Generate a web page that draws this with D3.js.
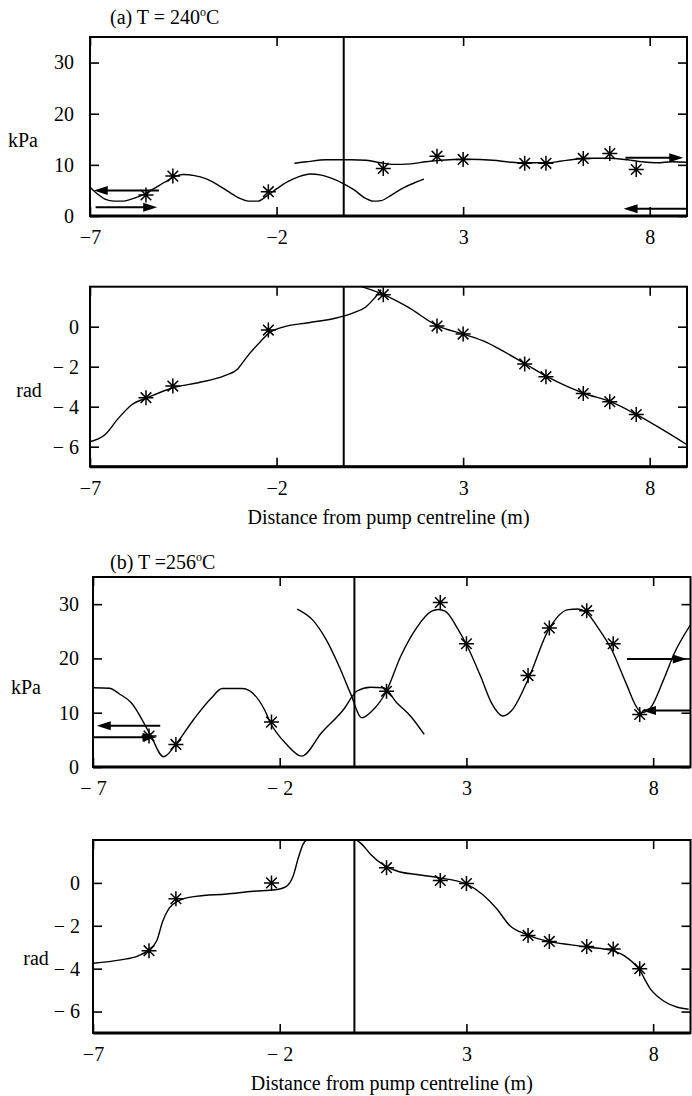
<!DOCTYPE html>
<html><head><meta charset="utf-8">
<script src="https://cdn.jsdelivr.net/npm/d3@7"></script>
<style>
body{margin:0;background:#fff}
svg{display:block}
</style>
</head><body>
<svg id="chart" width="692" height="1096"></svg>
<script>
// ---------------- data ----------------
const xDomain = [-7, 9];
const xTicks = [-7, -2, 3, 8];
const aXTickLabels = ["\u22127", "\u22122", "3", "8"];
const bXTickLabels = ["\u2212 7", "\u2212 2", "3", "8"];
const bRadXTickLabels = ["\u22127", "\u2212 2", "3", "8"];
const kPaTicks = [0, 10, 20, 30];
const kPaTickLabels = ["0", "10", "20", "30"];
const radTicks = [-6, -4, -2, 0];
const radTickLabels = ["\u2212 6", "\u2212 4", "\u2212 2", "0"];

// transducer positions (m) and measured values (asterisks)
const sensorX = [-5.5, -4.78, -2.22, 0.86, 2.3, 3.0, 4.65, 5.22, 6.22, 6.93, 7.64];
const aPressureMeas = [4.1, 7.8, 4.75, 9.3, 11.7, 11.06, 10.3, 10.3, 11.26, 12.2, 9.1];
const aPhaseMeas = [-3.55, -2.97, -0.17, 1.6, 0.03, -0.37, -1.86, -2.5, -3.34, -3.75, -4.39];
const bPressureMeas = [5.7, 4.16, 8.27, 13.96, 30.3, 22.7, 16.84, 25.6, 28.8, 22.7, 9.67];
const bPhaseMeas = [-3.16, -0.74, 0.0, 0.71, 0.11, -0.03, -2.45, -2.73, -2.97, -3.08, -4.0];

// fitted curves [x, y]
const aPressureSuction = [[-7,5.6],[-6.8,4.3],[-6.6,3.3],[-6.35,2.9],[-6.1,2.9],[-5.85,3.4],[-5.6,4.1],[-5.3,5.3],[-5.0,6.6],[-4.7,7.8],[-4.5,8.1],[-4.2,7.9],[-3.9,7.3],[-3.6,6.2],[-3.3,4.8],[-3.0,3.5],[-2.75,2.9],[-2.5,2.9],[-2.25,4.0],[-2.0,5.3],[-1.7,6.7],[-1.4,7.7],[-1.1,8.2],[-0.8,8.0],[-0.5,7.3],[-0.2,6.3],[0.1,5.0],[0.35,3.6],[0.6,2.9],[0.8,3.0],[1.1,4.2],[1.4,5.5],[1.7,6.5],[1.95,7.2]];
const aPressureDischarge = [[-1.52,10.3],[-1.2,10.6],[-0.67,11.0],[0.0,11.0],[0.4,10.9],[0.8,10.4],[1.1,10.1],[1.6,10.2],[2.0,10.6],[2.4,10.9],[3.1,11.1],[3.8,10.9],[4.3,10.5],[4.65,10.4],[5.25,10.4],[5.6,10.7],[6.0,11.1],[6.5,11.3],[6.9,11.3],[7.4,11.0],[7.8,10.6],[8.2,10.4],[8.6,10.6],[9.0,10.5]];
const aPhaseSuction = [[-7,-5.75],[-6.6,-5.4],[-6.23,-4.56],[-5.88,-3.9],[-5.46,-3.55],[-4.75,-3.04],[-4.1,-2.8],[-3.39,-2.45],[-3.04,-2.11],[-2.8,-1.52],[-2.44,-0.76],[-2.15,-0.25],[-1.85,-0.03],[-1.14,0.2],[-0.43,0.42],[0.04,0.68],[0.4,1.0],[0.63,1.44],[0.8,1.85]];
const aPhaseDischarge = [[0.28,2.0],[0.87,1.6],[1.5,1.0],[2.33,0.03],[3.0,-0.37],[3.6,-0.76],[4.0,-1.15],[4.65,-1.84],[5.25,-2.5],[5.8,-3.0],[6.25,-3.34],[6.95,-3.75],[7.65,-4.4],[8.3,-5.1],[9.0,-5.9]];

const bPressureSuction = [[-7,14.6],[-6.56,14.5],[-6.3,13.5],[-5.97,11.8],[-5.49,6.3],[-5.11,1.9],[-4.78,4.2],[-4.3,8.8],[-3.83,12.7],[-3.54,14.45],[-3.0,14.45],[-2.41,10.6],[-2.26,8.3],[-1.82,4.2],[-1.41,2.0],[-0.88,6.3],[-0.29,10.6],[0.07,14.0],[0.43,14.7],[0.78,14.6],[1.14,11.8],[1.5,9.4],[1.87,6.0]];
const bPressureDischarge = [[-1.53,29.1],[-1.12,27.1],[-0.76,23.5],[-0.41,18.55],[-0.11,13.65],[0.2,9.06],[0.47,10.3],[0.86,14.0],[1.24,20.4],[1.66,25.6],[2.07,28.7],[2.25,29.0],[2.43,28.7],[2.78,25.3],[2.99,22.7],[3.38,16.7],[3.67,11.8],[3.97,9.4],[4.2,10.3],[4.65,16.1],[5.2,25.3],[5.73,29.0],[5.97,29.1],[6.2,28.5],[6.56,25.3],[6.89,21.6],[7.27,15.5],[7.57,10.9],[7.7,10.0],[7.93,10.9],[8.28,16.1],[8.57,21.0],[9.0,26.2]];
const bPhaseSuction = [[-7,-3.75],[-6.26,-3.59],[-5.79,-3.4],[-5.53,-3.16],[-5.29,-2.69],[-5.14,-1.82],[-4.96,-1.18],[-4.72,-0.84],[-4.25,-0.63],[-3.42,-0.52],[-2.71,-0.39],[-2.12,-0.32],[-1.82,-0.16],[-1.64,0.32],[-1.5,1.18],[-1.37,1.82],[-1.25,2.05]];
const bPhaseDischarge = [[0.01,2.05],[0.19,1.82],[0.43,1.34],[0.82,0.79],[1.2,0.52],[1.67,0.39],[2.26,0.24],[2.99,-0.05],[3.44,-0.55],[3.8,-1.18],[4.15,-1.97],[4.63,-2.42],[5.2,-2.73],[5.81,-2.89],[6.28,-3.0],[6.9,-3.16],[7.23,-3.4],[7.61,-4.0],[7.94,-4.98],[8.3,-5.53],[8.65,-5.8],[8.95,-5.89]];

// wave-direction arrows: [xFrom, xTo, y]
const aArrows = [[-5.15,-6.9,5.0],[-6.85,-5.2,1.7],[7.35,8.9,11.4],[9.0,7.3,1.4]];
const bArrows = [[-5.2,-6.9,7.6],[-7.0,-5.3,5.5],[7.3,8.9,19.9],[9.0,7.7,10.4]];

const aPumpX = -0.2;
const bPumpX = 0;

// ---------------- drawing ----------------
const FONT = '"Liberation Serif", "Times New Roman", Times, "DejaVu Serif", serif';
const FS = '20px';
const svg = d3.select('#chart');

const panels = [
  {left:90, right:687, top:37, bottom:216, yDomain:[0,35], yTicks:kPaTicks, yLabels:kPaTickLabels, xLabels:aXTickLabels, yPad:16,
   unit:"kPa", unitX:23, unitY:140, curves:[aPressureSuction,aPressureDischarge], meas:aPressureMeas, arrows:aArrows, pump:aPumpX},
  {left:90, right:687, top:286.7, bottom:466.7, yDomain:[-7,2], yTicks:radTicks, yLabels:radTickLabels, xLabels:aXTickLabels, yPad:11,
   unit:"rad", unitX:29, unitY:390, curves:[aPhaseSuction,aPhaseDischarge], meas:aPhaseMeas, arrows:[], pump:aPumpX, xTitle:true},
  {left:93, right:690.5, top:577, bottom:767, yDomain:[0,35], yTicks:kPaTicks, yLabels:kPaTickLabels, xLabels:bXTickLabels, yPad:14,
   unit:"kPa", unitX:26, unitY:687, curves:[bPressureSuction,bPressureDischarge], meas:bPressureMeas, arrows:bArrows, pump:bPumpX},
  {left:93, right:690.5, top:840, bottom:1033, yDomain:[-7,2], yTicks:radTicks, yLabels:radTickLabels, xLabels:bRadXTickLabels, yPad:13,
   unit:"rad", unitX:36, unitY:958, curves:[bPhaseSuction,bPhaseDischarge], meas:bPhaseMeas, arrows:[], pump:bPumpX, xTitle:true}
];

function star(cx, cy, r) {
  const d = r * Math.SQRT1_2;
  return `M${cx-r},${cy}L${cx+r},${cy}M${cx},${cy-r}L${cx},${cy+r}` +
         `M${cx-d},${cy-d}L${cx+d},${cy+d}M${cx-d},${cy+d}L${cx+d},${cy-d}`;
}

panels.forEach(p => {
  const x = d3.scaleLinear().domain(xDomain).range([p.left, p.right]);
  const y = d3.scaleLinear().domain(p.yDomain).range([p.bottom, p.top]);
  const g = svg.append('g');
  const tick = 9;

  const ax = (sel) => {
    sel.attr('font-family', null).attr('font-size', null);
    sel.select('.domain').remove();
    sel.selectAll('line').attr('stroke','#000').attr('stroke-width',1.6);
    sel.selectAll('text').style('font-family', FONT).style('font-size', FS).attr('fill', '#000');
  };

  g.append('g').attr('transform', `translate(0,${p.bottom})`)
    .call(d3.axisBottom(x).tickValues(xTicks).tickSize(-tick).tickPadding(14).tickFormat((d,i) => p.xLabels[i]))
    .call(ax);
  g.append('g').attr('transform', `translate(0,${p.top})`)
    .call(d3.axisTop(x).tickValues(xTicks).tickSize(-tick).tickFormat(''))
    .call(ax);
  g.append('g').attr('transform', `translate(${p.left},0)`)
    .call(d3.axisLeft(y).tickValues(p.yTicks).tickSize(-tick).tickPadding(p.yPad).tickFormat((d,i) => p.yLabels[i]))
    .call(ax);
  g.append('g').attr('transform', `translate(${p.right},0)`)
    .call(d3.axisRight(y).tickValues(p.yTicks).tickSize(-tick).tickFormat(''))
    .call(ax);

  // clip for curves
  const cid = 'clip' + Math.round(p.top);
  svg.append('clipPath').attr('id', cid).append('rect')
    .attr('x', p.left).attr('y', p.top).attr('width', p.right - p.left).attr('height', p.bottom - p.top);

  const line = d3.line().x(d => x(d[0])).y(d => y(d[1])).curve(d3.curveMonotoneX);
  const cg = g.append('g').attr('clip-path', `url(#${cid})`);
  p.curves.forEach(c => {
    cg.append('path').attr('d', line(c)).attr('fill','none').attr('stroke','#000').attr('stroke-width',1.4);
  });

  // pump centreline
  g.append('line').attr('x1', x(p.pump)).attr('x2', x(p.pump)).attr('y1', p.top).attr('y2', p.bottom)
    .attr('stroke','#000').attr('stroke-width',2);

  // measured points
  g.selectAll('path.star').data(p.meas).enter().append('path').attr('class','star')
    .attr('d', (v,i) => star(x(sensorX[i]), y(v), 7.5))
    .attr('stroke','#000').attr('stroke-width',1.5).attr('fill','none');

  // arrows
  p.arrows.forEach(a => {
    const x1 = x(a[0]), x2 = x(a[1]), yy = y(a[2]);
    const dir = Math.sign(x2 - x1);
    g.append('line').attr('x1', x1).attr('x2', x2 - dir*8).attr('y1', yy).attr('y2', yy)
      .attr('stroke','#000').attr('stroke-width',2);
    g.append('path').attr('d', `M${x2},${yy}L${x2 - dir*14},${yy-4.5}L${x2 - dir*14},${yy+4.5}Z`).attr('fill','#000');
  });

  // frame
  g.append('rect').attr('x', p.left).attr('y', p.top).attr('width', p.right - p.left).attr('height', p.bottom - p.top)
    .attr('fill','none').attr('stroke','#000').attr('stroke-width',2);
  g.append('line').attr('x1', p.left).attr('x2', p.right).attr('y1', p.bottom).attr('y2', p.bottom)
    .attr('stroke','#000').attr('stroke-width',3);

  // unit label
  g.append('text').attr('x', p.unitX).attr('y', p.unitY).attr('dy','0.35em').attr('text-anchor','middle')
    .style('font-family', FONT).style('font-size', FS).text(p.unit);

  if (p.xTitle) {
    g.append('text').attr('x', (p.left + p.right)/2).attr('y', p.bottom + 57).attr('text-anchor','middle')
      .style('font-family', FONT).style('font-size', FS).text('Distance from pump centreline (m)');
  }
});

// panel titles
function title(xp, yp, pre, post) {
  const t = svg.append('text').attr('x', xp).attr('y', yp).style('font-family', FONT).style('font-size', FS);
  t.append('tspan').text(pre);
  t.append('tspan').style('font-size', '12px').attr('dy', -8).text('o');
  t.append('tspan').attr('dy', 8).text(post);
}
title(110, 24, '(a) T = 240', 'C');
title(110, 569, '(b) T =256', 'C');
</script>
</body></html>
